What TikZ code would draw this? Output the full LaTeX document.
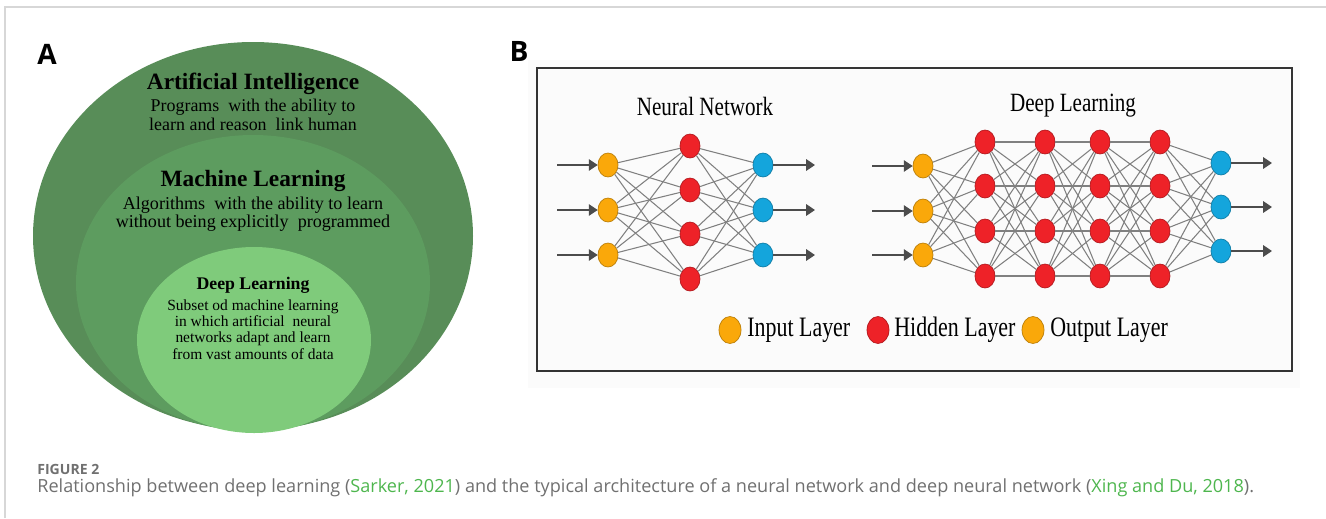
\documentclass[tikz,border=0pt]{standalone}
\usepackage{fontspec}
\setmainfont{Liberation Serif}
\setsansfont{Open Sans}
\usepackage{xcolor}
\usetikzlibrary{shapes.geometric}
\usetikzlibrary{arrows.meta}

\definecolor{aigreen}{RGB}{88,141,88}
\definecolor{mlgreen}{RGB}{93,156,95}
\definecolor{dlgreen}{RGB}{127,203,123}
\definecolor{inorange}{RGB}{250,168,10}
\definecolor{hidred}{RGB}{238,34,40}
\definecolor{outblue}{RGB}{20,165,220}
\definecolor{capgray}{RGB}{112,112,112}
\definecolor{citegreen}{RGB}{78,182,78}
\definecolor{framegray}{RGB}{215,215,215}

\tikzset{
  neuron/.style={ellipse, draw=#1!75!black, fill=#1, line width=0.4pt,
    minimum width=0.4cm, minimum height=0.48cm, inner sep=0pt},
  keydot/.style={ellipse, draw=#1!75!black, fill=#1, line width=0.4pt,
    minimum width=0.44cm, minimum height=0.54cm, inner sep=0pt},
  link/.style={draw=black!50, line width=0.6pt},
  feed/.style={draw=black!70, line width=0.8pt, -{Triangle[length=5pt,width=6.5pt]}},
  nettitle/.style={font=\fontsize{15}{17}\selectfont, inner sep=0pt},
  keytext/.style={font=\fontsize{16}{18}\selectfont, anchor=west, inner sep=0pt},
  panel/.style={font=\sffamily\bfseries\fontsize{16}{18}\selectfont, inner sep=0pt}
}

\begin{document}
\begin{tikzpicture}[x=0.02cm,y=-0.02cm]
\useasboundingbox (0,0) rectangle (1326,518);
% frame of the figure
\draw [framegray, line width=0.6pt] (5,518) -- (5,7) -- (1326,7);

% panel A
\node [panel] (lab-a) at (47,54) {A};
\fill [aigreen] (253,236) ellipse [x radius=220, y radius=194];
\fill [mlgreen] (253,283) ellipse [x radius=177, y radius=148];
\fill [dlgreen] (254,340) ellipse [x radius=117, y radius=93];

\node [inner sep=0pt, font=\bfseries\fontsize{13.3}{15}\selectfont] (ai-title) at (253,84) {Artificial Intelligence};
\node [inner sep=0pt, anchor=north, align=center, font=\fontsize{10.2}{10.4}\selectfont] (ai-text) at (253,99)
  {Programs \ with the ability to\\ learn and reason \ link human};
\node [inner sep=0pt, font=\bfseries\fontsize{13.3}{15}\selectfont] (ml-title) at (253,181) {Machine Learning};
\node [inner sep=0pt, anchor=north, align=center, font=\fontsize{10.3}{9.9}\selectfont] (ml-text) at (253,197)
  {Algorithms \ with the ability to learn\\ without being explicitly \ programmed};
\node [inner sep=0pt, font=\bfseries\fontsize{10.1}{12}\selectfont] (dl-title) at (253,285) {Deep Learning};
\node [inner sep=0pt, anchor=north, align=center, font=\fontsize{8.8}{9.3}\selectfont] (dl-text) at (253,299)
  {Subset od machine learning\\ in which artificial \ neural\\ networks adapt and learn\\ from vast amounts of data};

% panel B
\node [panel] (lab-b) at (519,51) {B};
\fill [black!1.5] (528,60) rectangle (1300,388);
\draw [black!80, line width=1.1pt] (537,68) rectangle (1292,371);

\node [nettitle] (nn-title) at (705,106) {\scalebox{0.8}[1]{Neural Network}};
\node [nettitle] (dl-net-title) at (1073,106) {\scalebox{0.8}[1]{Deep Learning}};

% neural network
\foreach \k/\y in {1/165,2/210,3/255} {
  \node [neuron=inorange] (nn-i\k) at (608,\y) {};
  \node [neuron=outblue] (nn-o\k) at (763,\y) {};
  \coordinate (nn-in\k) at (557,\y);
  \coordinate (nn-out\k) at (815,\y);
}
\foreach \k/\y in {1/146,2/190,3/234,4/279}
  \node [neuron=hidred] (nn-h\k) at (690,\y) {};
\foreach \a in {1,2,3}
  \foreach \b in {1,2,3,4} {
    \draw [link] (nn-i\a) -- (nn-h\b);
    \draw [link] (nn-h\b) -- (nn-o\a);
  }
\foreach \k in {1,2,3} {
  \draw [feed] (nn-in\k) -- (nn-i\k);
  \draw [feed] (nn-o\k) -- (nn-out\k);
}

% deep network
\foreach \k/\y in {1/166,2/211,3/255} {
  \node [neuron=inorange] (dl-i\k) at (923,\y) {};
  \coordinate (dl-in\k) at (872,\y);
}
\foreach \k/\y in {1/163,2/207,3/251} {
  \node [neuron=outblue] (dl-o\k) at (1221,\y) {};
  \coordinate (dl-out\k) at (1272,\y);
}
\foreach \l/\x in {1/985,2/1045,3/1100,4/1160}
  \foreach \k/\y in {1/142,2/186,3/231,4/276}
    \node [neuron=hidred] (dl-h\l\k) at (\x,\y) {};
\foreach \a in {1,2,3}
  \foreach \b in {1,2,3,4} {
    \draw [link] (dl-i\a) -- (dl-h1\b);
    \draw [link] (dl-h4\b) -- (dl-o\a);
  }
\foreach \l/\m in {1/2,2/3,3/4}
  \foreach \a in {1,2,3,4}
    \foreach \b in {1,2,3,4}
      \draw [link] (dl-h\l\a) -- (dl-h\m\b);
\foreach \k in {1,2,3} {
  \draw [feed] (dl-in\k) -- (dl-i\k);
  \draw [feed] (dl-o\k) -- (dl-out\k);
}

% legend
\node [keydot=inorange] (key-in) at (730,330) {};
\node [keytext] (key-in-txt) at (747,330) {\scalebox{0.78}[1]{Input Layer}};
\node [keydot=hidred] (key-hid) at (878,330) {};
\node [keytext] (key-hid-txt) at (894,330) {\scalebox{0.78}[1]{Hidden Layer}};
\node [keydot=inorange] (key-out) at (1033,330) {};
\node [keytext] (key-out-txt) at (1050,330) {\scalebox{0.78}[1]{Output Layer}};

% caption
\node [anchor=west, inner sep=0pt, text=capgray, font=\sffamily\bfseries\fontsize{8}{9}\selectfont] (fig-num) at (37,469) {FIGURE 2};
\node [anchor=west, inner sep=0pt, text=capgray, font=\sffamily\fontsize{10.3}{12}\selectfont] (fig-cap) at (37,488)
  {Relationship between deep learning (\textcolor{citegreen}{Sarker, 2021}) and the typical architecture of a neural network and deep neural network (\textcolor{citegreen}{Xing and Du, 2018}).};
\end{tikzpicture}
\end{document}
